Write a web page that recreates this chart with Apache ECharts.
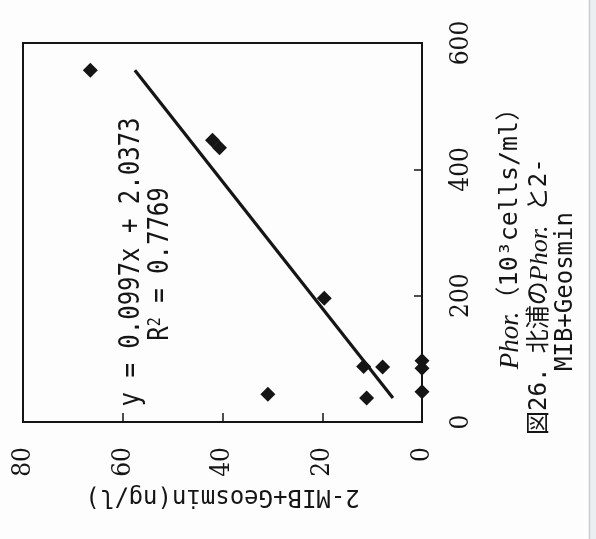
<!DOCTYPE html>
<html>
<head>
<meta charset="utf-8">
<script src="https://cdn.jsdelivr.net/npm/echarts@6/dist/echarts.min.js"></script>
<style>
  html, body { margin: 0; padding: 0; background: #fdfdfd; }
  #chart { width: 596px; height: 539px; }
</style>
</head>
<body>
<div id="chart"></div>
<script>
// Phormidium cell counts (10^3 cells/ml) and 2-MIB+Geosmin (ng/l) at Kitaura
const phor = [557, 446, 434, 196, 88, 87, 44, 38, 97, 85, 48];
const mib  = [66.5, 42.0, 40.6, 19.6, 11.7, 7.9, 30.9, 11.1, 0, 0, 0];

// Linear trendline y = a*x + b (x: Phor., y: 2-MIB+Geosmin)
const slope = 0.0997;
const intercept = 2.0373;
const rSquared = 0.7769;

// Axis ranges and tick steps
const mibRange = [0, 80];
const mibStep = 20;
const phorRange = [0, 600];
const phorStep = 200;

const mibTitle = '2-MIB+Geosmin(ng/l)';
const phorTitle = '{i|Phor.}（10³cells/ml）';
const captionLine1 = '図26. 北浦の{i|Phor.} と2-';
const captionLine2 = 'MIB+Geosmin';

const MONO = "'DejaVu Sans Mono', 'Liberation Mono', monospace";
const TICK = "'Liberation Sans Narrow', 'DejaVu Serif Condensed', 'Liberation Serif', serif";
const SERIF = "'Liberation Serif', 'DejaVu Serif', serif";
const CJK = "'DejaVu Sans Mono', 'Noto Sans CJK JP', sans-serif";
const INK = '#151515';
const UP = Math.PI / 2; // text reads bottom-to-top

const points = phor.map((p, i) => [mib[i], p]);
const pMin = Math.min(...phor);
const pMax = Math.max(...phor);
const trend = [
  [slope * pMin + intercept, pMin],
  [slope * pMax + intercept, pMax]
];

const chart = echarts.init(document.getElementById('chart'), null, { renderer: 'canvas' });

chart.setOption({
  backgroundColor: '#fdfdfd',
  animation: false,
  grid: {
    left: 23, top: 43, right: 174, bottom: 117,
    show: true, borderColor: INK, borderWidth: 2, backgroundColor: 'transparent'
  },
  xAxis: {
    type: 'value',
    inverse: true,
    position: 'bottom',
    min: mibRange[0], max: mibRange[1], interval: mibStep,
    splitLine: { show: false },
    axisLine: { show: true, onZero: false, lineStyle: { color: INK, width: 2 } },
    axisTick: { show: true, inside: true, length: 9, lineStyle: { color: INK, width: 1.5 } },
    axisLabel: { rotate: 90, margin: 25, color: INK, fontFamily: TICK, fontSize: 26 },
    name: mibTitle,
    nameLocation: 'middle',
    nameRotate: 180,
    nameGap: 62,
    nameTextStyle: { color: INK, fontFamily: MONO, fontSize: 24 }
  },
  yAxis: {
    type: 'value',
    position: 'right',
    min: phorRange[0], max: phorRange[1], interval: phorStep,
    splitLine: { show: false },
    axisLine: { show: true, onZero: false, lineStyle: { color: INK, width: 2 } },
    axisTick: { show: true, inside: true, length: 8, lineStyle: { color: INK, width: 1.5 } },
    axisLabel: { rotate: 90, margin: 26, color: INK, fontFamily: TICK, fontSize: 26 },
    name: phorTitle,
    nameLocation: 'middle',
    nameRotate: 90,
    nameGap: 75,
    nameTextStyle: {
      color: INK, fontFamily: CJK, fontSize: 25,
      rich: { i: { fontStyle: 'italic', fontFamily: SERIF, fontSize: 27, color: INK } }
    }
  },
  series: [
    {
      type: 'line',
      data: trend,
      symbol: 'none',
      silent: true,
      lineStyle: { color: INK, width: 3.2 },
      z: 2
    },
    {
      type: 'scatter',
      data: points,
      symbol: 'diamond',
      symbolSize: 15,
      itemStyle: { color: INK, opacity: 1 },
      z: 3
    }
  ],
  graphic: [
    {
      type: 'text', x: 132, y: 262, rotation: UP, scaleY: 1.15,
      style: {
        text: 'y = ' + slope.toFixed(4) + 'x + ' + intercept.toFixed(4),
        fontFamily: MONO, fontSize: 24, fill: INK,
        align: 'center', verticalAlign: 'middle'
      }
    },
    {
      type: 'text', x: 161, y: 264, rotation: UP, scaleY: 1.15,
      style: {
        text: 'R{sup|2} = ' + rSquared.toFixed(4),
        fontFamily: MONO, fontSize: 24, fill: INK,
        align: 'center', verticalAlign: 'middle',
        rich: { sup: { fontFamily: MONO, fontSize: 15, verticalAlign: 'top', fill: INK } }
      }
    },
    {
      type: 'text', x: 540, y: 435, rotation: UP,
      style: {
        text: captionLine1,
        fontFamily: CJK, fontSize: 24, fill: INK,
        align: 'left', verticalAlign: 'middle',
        rich: { i: { fontStyle: 'italic', fontFamily: SERIF, fontSize: 26, fill: INK } }
      }
    },
    {
      type: 'text', x: 566, y: 371, rotation: UP,
      style: {
        text: captionLine2,
        fontFamily: MONO, fontSize: 24, fill: INK,
        align: 'left', verticalAlign: 'middle'
      }
    },
    {
      type: 'rect', shape: { x: 589, y: 0, width: 7, height: 539 },
      style: { fill: '#eceff2' }, silent: true
    },
    {
      type: 'line', shape: { x1: 589.5, y1: 0, x2: 589.5, y2: 539 },
      style: { stroke: '#c9ced4', lineWidth: 1.5 }, silent: true
    }
  ]
});
</script>
</body>
</html>
